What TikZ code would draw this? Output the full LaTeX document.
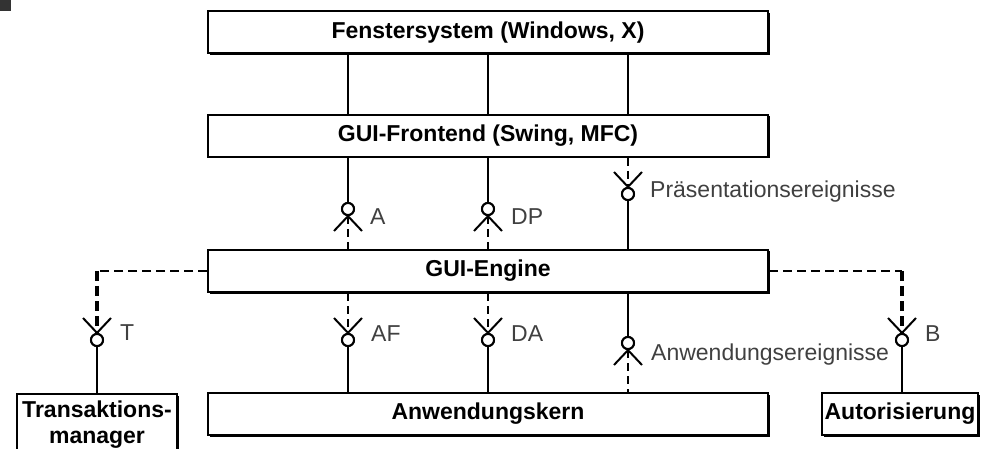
\documentclass[tikz,border=0pt]{standalone}
\usepackage{fontspec}
\setmainfont{Liberation Sans}
\usetikzlibrary{shadows}
\begin{document}
\begin{tikzpicture}[x=1pt,y=-1pt,
  box/.style={draw, line width=2pt, fill=white, inner sep=0pt, minimum height=42pt,
    font=\fontsize{23}{27}\selectfont\bfseries,
    general shadow={fill=black, shadow xshift=1.5pt, shadow yshift=-1.5pt}},
  ball/.style={circle, draw, line width=2pt, fill=white, minimum size=12pt, inner sep=0pt},
  link/.style={line width=2pt},
  dlink/.style={line width=2pt, dash pattern=on 8pt off 5pt},
  guide/.style={line width=1.2pt, dash pattern=on 9pt off 5pt},
  heavy/.style={line width=3.5pt, dash pattern=on 10pt off 5pt},
  lbl/.style={anchor=base west, inner sep=0pt, text=black!75, font=\fontsize{23}{27}\selectfont},
  sockup/.pic={\draw[line width=2pt] (-14,-22) -- (2,-5) (14,-22) -- (-2,-5);},
  sockdown/.pic={\draw[line width=2pt] (-14,22) -- (2,5) (14,22) -- (-2,5);},
]
\useasboundingbox (0,0) rectangle (983,449);
\clip (0,0) rectangle (983,449);

% corner mark
\fill[black!80] (0,0) rectangle (11,11);

% layers
\node[box, minimum width=560pt] (win)    at (488,32.5) {Fenstersystem (Windows, X)};
\node[box, minimum width=560pt] (front)  at (488,136)  {GUI-Frontend (Swing, MFC)};
\node[box, minimum width=560pt] (engine) at (488,271)  {GUI-Engine};
\node[box, minimum width=560pt] (core)   at (488,414)  {Anwendungskern};
\node[box, minimum width=156pt] (auth)   at (900,414)  {Autorisierung};
\node[box, minimum width=160pt, minimum height=62pt, align=center, anchor=north,
      font=\fontsize{23}{26}\selectfont\bfseries] (tm) at (97,393) {Transaktions-\\manager};

% interface balls
\node[ball] (bA)  at (348,209) {};
\node[ball] (bDP) at (488,209) {};
\node[ball] (bP)  at (628,194) {};
\node[ball] (bAF) at (348,340) {};
\node[ball] (bDA) at (488,340) {};
\node[ball] (bAE) at (628,343) {};
\node[ball] (bT)  at (97,340)  {};
\node[ball] (bB)  at (902,340) {};

% window system to frontend
\draw[link] (win.south -| bA)  -- (front.north -| bA);
\draw[link] (win.south -| bDP) -- (front.north -| bDP);
\draw[link] (win.south -| bP)  -- (front.north -| bP);

% frontend to engine
\draw[link]  (front.south -| bA) -- (bA.north);
\draw[dlink] (bA.south) -- (engine.north -| bA);
\draw[link]  (front.south -| bDP) -- (bDP.north);
\draw[dlink] (bDP.south) -- (engine.north -| bDP);
\draw[dlink] (front.south -| bP) -- (bP.north);
\draw[link]  (bP.south) -- (engine.north -| bP);

% engine to application core
\draw[dlink] (engine.south -| bAF) -- (bAF.north);
\draw[link]  (bAF.south) -- (core.north -| bAF);
\draw[dlink] (engine.south -| bDA) -- (bDA.north);
\draw[link]  (bDA.south) -- (core.north -| bDA);
\draw[link]  (engine.south -| bAE) -- (bAE.north);
\draw[dlink] (bAE.south) -- (core.north -| bAE);

% side services
\coordinate (tT) at (bT |- engine);
\coordinate (tB) at (bB |- engine);
\draw[guide] (engine.west) -- (tT);
\draw[heavy] (tT) -- (bT.north);
\draw[link]  (bT.south) -- (tm.north -| bT);
\draw[guide] (engine.east) -- (tB);
\draw[heavy] (tB) -- (bB.north);
\draw[link]  (bB.south) -- (auth.north -| bB);

% sockets
\pic at (bA)  {sockdown};
\pic at (bDP) {sockdown};
\pic at (bAE) {sockdown};
\pic at (bP)  {sockup};
\pic at (bAF) {sockup};
\pic at (bDA) {sockup};
\pic at (bT)  {sockup};
\pic at (bB)  {sockup};

% redraw balls above the lines
\foreach \b in {bA,bDP,bP,bAF,bDA,bAE,bT,bB}
  \draw[line width=2pt, fill=white] (\b) circle (6pt);

% interface names
\node[lbl] (lA)  at (370,225) {A};
\node[lbl] (lDP) at (511,225) {DP};
\node[lbl] (lP)  at (650,198) {Präsentationsereignisse};
\node[lbl] (lAF) at (371,341) {AF};
\node[lbl] (lDA) at (511,341) {DA};
\node[lbl] (lAE) at (651,360) {Anwendungsereignisse};
\node[lbl] (lT)  at (120,340) {T};
\node[lbl] (lB)  at (925,341) {B};
\end{tikzpicture}
\end{document}
